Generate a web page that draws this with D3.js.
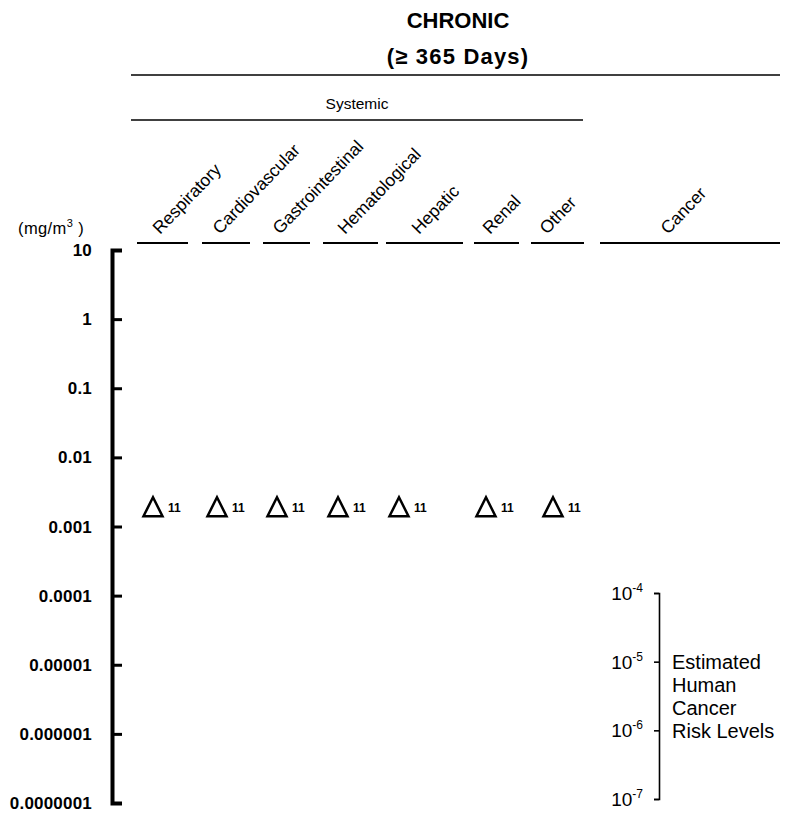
<!DOCTYPE html>
<html><head><meta charset="utf-8">
<script src="https://cdn.jsdelivr.net/npm/d3@7/dist/d3.min.js"></script>
<style>
body{margin:0;background:#fff}
svg text{font-family:"Liberation Sans",Arial,Helvetica,sans-serif;fill:#000}
</style>
</head><body>
<svg id="chart" width="786" height="813"></svg>
<script>
// ---- data ----
const categories = ["Respiratory","Cardiovascular","Gastrointestinal","Hematological","Hepatic","Renal","Other"];
const cancerCategory = "Cancer";
const mrlValues = [0.0019,0.0019,0.0019,0.0019,0.0019,0.0019,0.0019];
const mrlKeys = ["11","11","11","11","11","11","11"];
const yTickValues = [10,1,0.1,0.01,0.001,0.0001,0.00001,0.000001,0.0000001];
const yTickLabels = ["10","1","0.1","0.01","0.001","0.0001","0.00001","0.000001","0.0000001"];
const riskLevels = [1e-4,1e-5,1e-6,1e-7];
const riskExponents = ["-4","-5","-6","-7"];
const riskText = ["Estimated","Human","Cancer","Risk Levels"];
const titleLines = ["CHRONIC","(\u2265 365 Days)"];
const groupLabel = "Systemic";

// ---- layout ----
const svg = d3.select("#chart");
const axisX = 112;
const y = d3.scaleLog().domain([1e-7,10]).range([803,250]);
const x = d3.scaleOrdinal().domain(categories).range([153,217,277,338,399,486,553]);
// column header segments [start,end] and label anchor
const colLayout = [
  {s:137,e:188,lx:160},{s:202,e:250,lx:220},{s:263,e:310,lx:280},{s:323,e:378,lx:345},
  {s:386,e:463,lx:419},{s:474,e:519,lx:490},{s:531,e:584,lx:547}
];
const cancerLayout = {s:600,e:780,lx:668};
const headerY = 243;

// title
svg.selectAll("text.title").data(titleLines).join("text")
  .attr("class","title")
  .attr("x",458).attr("y",(d,i)=>28+i*36)
  .attr("text-anchor","middle")
  .attr("font-size",22).attr("font-weight","bold")
  .attr("letter-spacing",(d,i)=>i?1.2:0)
  .text(d=>d);

// top rule
svg.append("line").attr("x1",131).attr("x2",780).attr("y1",75).attr("y2",75)
  .attr("stroke","#000").attr("stroke-width",1.6);
// Systemic
svg.append("text").attr("x",357).attr("y",109).attr("text-anchor","middle")
  .attr("font-size",15.5).text(groupLabel);
svg.append("line").attr("x1",131).attr("x2",583).attr("y1",120).attr("y2",120)
  .attr("stroke","#000").attr("stroke-width",1.6);

// column headers
const allCols = categories.map((c,i)=>({name:c,...colLayout[i]})).concat([{name:cancerCategory,...cancerLayout}]);
svg.selectAll("line.seg").data(allCols).join("line")
  .attr("class","seg")
  .attr("x1",d=>d.s).attr("x2",d=>d.e).attr("y1",headerY).attr("y2",headerY)
  .attr("stroke","#000").attr("stroke-width",2);
svg.selectAll("text.col").data(allCols).join("text")
  .attr("class","col")
  .attr("transform",d=>`translate(${d.lx},${headerY-8}) rotate(-46)`)
  .attr("font-size",17.5)
  .text(d=>d.name);

// unit label
const unit = svg.append("text").attr("x",18).attr("y",234).attr("font-size",16.5).attr("letter-spacing",0.4);
unit.append("tspan").text("(mg/m");
unit.append("tspan").attr("font-size",11).attr("dy",-7).text("3");
unit.append("tspan").attr("dy",7).text("\u00a0)");

// y axis
const yAxis = d3.axisRight(y).tickValues(yTickValues).tickSize(10).tickSizeOuter(10).tickFormat("");
const gy = svg.append("g").attr("transform",`translate(${axisX},0)`).call(yAxis);
gy.select(".domain").attr("stroke-width",4).attr("stroke","#000").attr("fill","none");
gy.selectAll(".tick line").attr("stroke-width",3).attr("stroke","#000");
svg.selectAll("text.ytl").data(yTickValues).join("text")
  .attr("class","ytl")
  .attr("x",92).attr("y",d=>y(d)).attr("dy","0.36em")
  .attr("text-anchor","end").attr("font-size",17).attr("font-weight","bold")
  .attr("letter-spacing",0.2)
  .text((d,i)=>yTickLabels[i]);

// MRL triangles
const pts = categories.map((c,i)=>({c,v:mrlValues[i],k:mrlKeys[i]}));
svg.selectAll("path.tri").data(pts).join("path")
  .attr("class","tri")
  .attr("d",d=>{const cx=x(d.c), cy=y(d.v); const p=d3.path();
    p.moveTo(cx,cy-10); p.lineTo(cx+9.5,cy+9); p.lineTo(cx-9.5,cy+9); p.closePath(); return p.toString();})
  .attr("fill","none").attr("stroke","#000").attr("stroke-width",2.5).attr("stroke-linejoin","miter");
svg.selectAll("text.key").data(pts).join("text")
  .attr("class","key")
  .attr("x",d=>x(d.c)+15).attr("y",d=>y(d.v)+5)
  .attr("font-size",12).attr("font-weight","bold")
  .text(d=>d.k);

// cancer risk scale
const yRisk = d3.scaleLog().domain([1e-7,1e-4]).range([799,593]);
const riskX = 659;
const rAxis = d3.axisLeft(yRisk).tickValues(riskLevels).tickSize(5).tickSizeOuter(5).tickFormat("");
const gr = svg.append("g").attr("transform",`translate(${riskX},0)`).call(rAxis);
gr.select(".domain").attr("stroke-width",1.6).attr("stroke","#000").attr("fill","none");
gr.selectAll(".tick line").attr("stroke-width",1.6).attr("stroke","#000");
const rl = svg.selectAll("text.rl").data(riskLevels).join("text")
  .attr("class","rl")
  .attr("x",643).attr("y",d=>yRisk(d)+7)
  .attr("text-anchor","end").attr("font-size",19);
rl.append("tspan").text("10");
rl.append("tspan").attr("font-size",12).attr("dy",-8).text((d,i)=>riskExponents[i]);

svg.selectAll("text.rt").data(riskText).join("text")
  .attr("class","rt")
  .attr("x",672).attr("y",(d,i)=>yRisk(1e-5)+7+i*23)
  .attr("font-size",20)
  .text(d=>d);
</script>
</body></html>
